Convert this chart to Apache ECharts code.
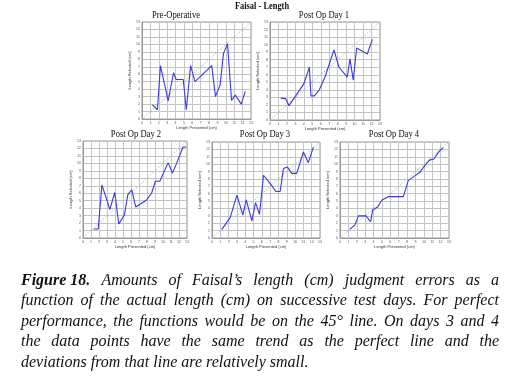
<!DOCTYPE html>
<html><head><meta charset="utf-8">
<script src="https://cdn.jsdelivr.net/npm/echarts@6/dist/echarts.min.js"></script>
<style>
html,body{margin:0;padding:0;background:#fff;}
#chart{width:509px;height:380px;}
</style></head>
<body><div id="chart"></div>
<script>
const mainTitle = 'Faisal - Length';
const panelTitles = ['Pre-Operative','Post Op Day 1','Post Op Day 2','Post Op Day 3','Post Op Day 4'];
const preOpX = [1.24,1.84,2.2,3.12,3.76,4.08,4.92,5.28,5.8,6.32,8.32,8.76,9.32,9.72,10.2,10.68,11.12,11.84,12.32];
const preOpY = [1.9,1.24,7.15,2.44,6.2,5.3,5.3,1.24,7.15,5.0,7.15,3.0,4.6,8.8,10.1,2.5,3.2,2.0,3.7];
const day1X = [1.26,1.85,2.24,4.0,4.65,4.84,5.24,5.83,6.5,7.56,8.15,9.13,9.45,9.84,10.24,11.5,12.1];
const day1Y = [2.9,2.84,1.9,4.8,7.0,3.2,3.2,4.0,5.7,9.3,7.0,5.7,8.1,5.3,9.55,8.75,10.7];
const day2X = [1.33,1.9,2.36,2.98,3.35,3.97,4.47,5.18,5.6,6.1,6.6,7.95,8.57,9.05,9.6,10.64,11.18,11.7,12.5,12.9];
const day2Y = [1.2,1.2,7.1,5.1,3.8,6.1,1.87,3.1,5.8,6.45,4.15,5.1,6.0,7.6,7.6,10.1,8.7,10.0,12.2,12.2];
const day3X = [1.2,2.2,3.0,3.72,4.12,4.8,5.24,5.72,6.2,7.12,7.68,8.2,8.6,9.08,9.6,10.2,11.0,11.6,12.2];
const day3Y = [1.2,2.8,5.8,3.1,5.15,2.33,4.8,3.2,8.5,7.2,6.3,6.3,9.4,9.6,8.75,8.75,11.65,10.2,12.3];
const day4X = [1.19,1.79,2.19,3.1,3.66,3.9,4.5,4.97,5.77,7.55,8.15,8.95,9.54,10.1,10.66,11.2,11.73,12.3];
const day4Y = [1.2,1.78,3.0,3.0,2.2,3.8,4.2,5.1,5.6,5.6,7.8,8.45,8.9,9.8,10.55,10.7,11.6,12.25];
const perfectLine = [[0,0],[13,13]];
const axisMin = 0, axisMax = 13, axisStep = 1;
const captionBold = 'Figure 18.';
const captionLines = [
  'Amounts of Faisal’s length (cm) judgment errors as a',
  'function of the actual length (cm) on successive test days. For perfect',
  'performance, the functions would be on the 45° line. On days 3 and 4',
  'the data points have the same trend as the perfect line and the',
  'deviations from that line are relatively small.'
];

const xs = [preOpX, day1X, day2X, day3X, day4X];
const ys = [preOpY, day1Y, day2Y, day3Y, day4Y];
const grids = [
  {left:142, top:22, width:109, height:97},
  {left:270, top:22, width:110, height:98},
  {left:83, top:141, width:104, height:97},
  {left:212, top:142, width:108, height:96},
  {left:340, top:142, width:109, height:96}
];
const titlePos = [[176,15.5],[324,15.5],[136,134.5],[265,134.5],[394,134.5]];

const graphic = [];
// titles (condensed serif like the reference)
graphic.push({type:'text', x:262, y:6, scaleX:0.8, silent:true,
  style:{text:mainTitle, font:"bold 10.5px 'Liberation Serif'", fill:'#111', align:'center', verticalAlign:'middle'}});
panelTitles.forEach((t,i)=>graphic.push({type:'text', x:titlePos[i][0], y:titlePos[i][1], scaleX:0.78, silent:true,
  style:{text:t, font:"11px 'Liberation Serif'", fill:'#111', align:'center', verticalAlign:'middle'}}));

// caption layout (justified) using canvas-measured word widths
const capLeft = 21, capWidth = 478, capTop = 280.5, capLead = 20.5;
const fontIt = "italic 16px 'Liberation Serif'";
const fontBI = "italic bold 16px 'Liberation Serif'";
const mctx = document.createElement('canvas').getContext('2d');
function w(t, f){ mctx.font = f; return mctx.measureText(t).width; }
captionLines.forEach((line, li)=>{
  const words = line.split(' ').map(t=>({t, f:fontIt}));
  if (li === 0) words.unshift({t:captionBold, f:fontBI});
  const widths = words.map(o=>w(o.t, o.f));
  const total = widths.reduce((a,b)=>a+b,0);
  const justify = li < captionLines.length - 1;
  const gap = justify ? (capWidth - total)/(words.length - 1) : w(' ', fontIt);
  let x = capLeft;
  const y = capTop + li*capLead;
  words.forEach((o,k)=>{
    graphic.push({type:'text', x, y, silent:true,
      style:{text:o.t, font:o.f, fill:'#111', align:'left', verticalAlign:'middle'}});
    x += widths[k] + gap;
  });
});

const chart = echarts.init(document.getElementById('chart'), null, {renderer:'canvas'});

const xAxis = [], yAxis = [], series = [];
grids.forEach((g,i)=>{
  xAxis.push({type:'value', gridIndex:i, min:axisMin, max:axisMax, interval:axisStep,
    name:'Length Presented (cm)', nameLocation:'middle', nameGap:7,
    nameTextStyle:{fontSize:4, color:'#333', fontFamily:'Liberation Sans'},
    axisLine:{show:true, lineStyle:{color:'#999', width:1}}, axisTick:{show:false},
    axisLabel:{fontSize:3.5, color:'#555', margin:2},
    splitLine:{show:true, lineStyle:{color:'#c4c4c4', width:1}}});
  yAxis.push({type:'value', gridIndex:i, min:axisMin, max:axisMax, interval:axisStep,
    name:'Length Selected (cm)', nameLocation:'middle', nameGap:8, nameRotate:90,
    nameTextStyle:{fontSize:4, color:'#333', fontFamily:'Liberation Sans'},
    axisLine:{show:true, lineStyle:{color:'#999', width:1}}, axisTick:{show:false},
    axisLabel:{fontSize:3.5, color:'#555', margin:2},
    splitLine:{show:true, lineStyle:{color:'#c4c4c4', width:1}}});
  series.push({type:'line', xAxisIndex:i, yAxisIndex:i, data:perfectLine, symbol:'none', silent:true,
    lineStyle:{color:'#aaa', width:1, type:[1,1.5]}, animation:false});
  series.push({type:'line', xAxisIndex:i, yAxisIndex:i, data:xs[i].map((x,k)=>[x, ys[i][k]]),
    symbol:'none', lineStyle:{color:'#3a3ae0', width:1.1}, animation:false});
});
grids.forEach(g=>{g.show=true; g.borderColor='#999'; g.borderWidth=1; g.containLabel=false;});

chart.setOption({animation:false, grid:grids, xAxis, yAxis, series, graphic});
</script></body></html>
